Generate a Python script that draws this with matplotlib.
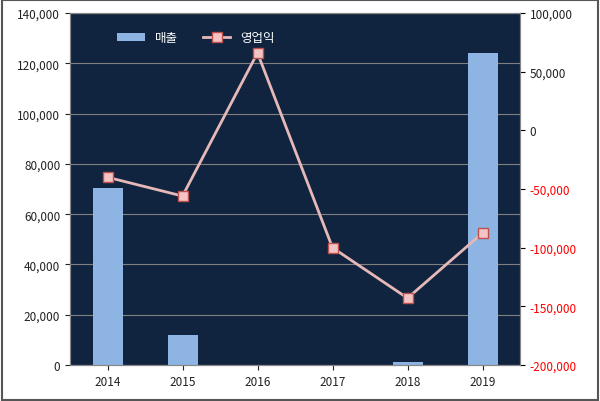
import matplotlib
matplotlib.use("Agg")
import matplotlib.pyplot as plt
from matplotlib.ticker import FuncFormatter

plt.rcParams["font.family"] = "Noto Sans CJK KR"

years = ["2014", "2015", "2016", "2017", "2018", "2019"]
sales = [70500, 12000, 0, 0, 1200, 124000]
op_profit = [-40000, -56000, 66000, -100000, -143000, -87500]

fig = plt.figure(figsize=(6.0, 4.02), dpi=100)
ax = fig.add_axes([70/600, 1-366/402, 450/600, 352/402])
ax.set_facecolor("#10243f")
x = range(len(years))
ax.bar(x, sales, width=0.4, color="#8db4e2", label="매출", zorder=2)
ax.set_ylim(0, 140000)
ax.set_xlim(-0.5, 5.5)
ax.set_yticks(range(0, 140001, 20000))
ax.yaxis.set_major_formatter(FuncFormatter(lambda v, p: f"{int(v):,}"))
ax.grid(axis="y", color="#7f7f7f", lw=0.8, zorder=1)
ax.set_xticks(list(x))
ax.set_xticklabels(years)
ax.tick_params(labelsize=8.5, colors="#222222")
for s in ax.spines.values():
    s.set_color("#888888")

ax2 = ax.twinx()
ax2.plot(x, op_profit, color="#e6b9b8", lw=2, marker="s", ms=7,
         mfc="#f2c4c4", mec="#c0504d", mew=1, label="영업익", zorder=3)
ax2.set_ylim(-200000, 100000)
ax2.set_yticks(range(-200000, 100001, 50000))
ax2.yaxis.set_major_formatter(FuncFormatter(lambda v, p: f"{int(v):,}"))
ax2.tick_params(labelsize=8.5)
for t, v in zip(ax2.get_yticklabels(), ax2.get_yticks()):
    t.set_color("#ff0000" if v < 0 else "#222222")
for s in ax2.spines.values():
    s.set_color("#888888")

h1, l1 = ax.get_legend_handles_labels()
h2, l2 = ax2.get_legend_handles_labels()
leg = ax2.legend(h1 + h2, l1 + l2, loc="upper left", bbox_to_anchor=(0.08, 0.98),
                 ncol=2, frameon=False, fontsize=9, handlelength=2.2)
for t in leg.get_texts():
    t.set_color("white")

fig.patches.append(plt.Rectangle((0.003, 0.003), 0.994, 0.994, transform=fig.transFigure,
                                 fill=False, ec="#555555", lw=1.5))
fig.savefig("out.png", dpi=100)
